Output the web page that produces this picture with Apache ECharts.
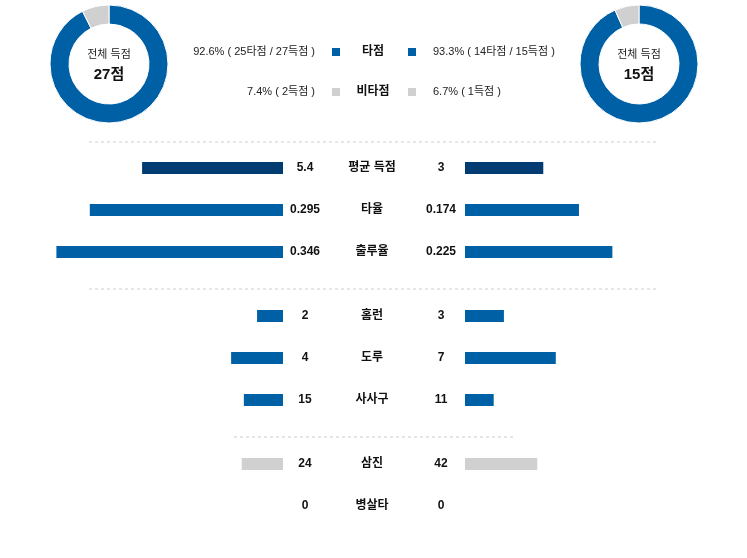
<!DOCTYPE html>
<html><head><meta charset="utf-8">
<script src="https://cdn.jsdelivr.net/npm/echarts@6/dist/echarts.min.js"></script>
<style>html,body{margin:0;padding:0;background:#fff}#c{width:747px;height:558px}</style>
</head><body><div id="c"></div>
<script>
// ---- data ----
var rowNames = ['평균 득점', '타율', '출루율', '홈런', '도루', '사사구', '삼진', '병살타'];
var leftVals = [5.4, 0.295, 0.346, 2, 4, 15, 24, 0];
var rightVals = [3, 0.174, 0.225, 3, 7, 11, 42, 0];
var leftText = ['5.4', '0.295', '0.346', '2', '4', '15', '24', '0'];
var rightText = ['3', '0.174', '0.225', '3', '7', '11', '42', '0'];
var rowScaleMax = [8.7, 0.3466, 0.3466, 17.5, 17.5, 87, 132, 1];
var donutLeft = [25, 2];   // 타점, 비타점
var donutRight = [14, 1];
var totalLeft = 27, totalRight = 15;
var legendNames = ['타점', '비타점'];
var legendLeftText = ['92.6% ( 25타점 / 27득점 )', '7.4% ( 2득점 )'];
var legendRightText = ['93.3% ( 14타점 / 15득점 )', '6.7% ( 1득점 )'];

// ---- styles ----
var BLUE = '#0060A6', DARK = '#003C72', GRAY = '#D0D0D0';
var rowColors = [DARK, BLUE, BLUE, BLUE, BLUE, BLUE, GRAY, GRAY];
var rowY = [168, 210, 252, 316, 358, 400, 464, 506];
var FONT = '"Liberation Sans", Arial, "Noto Sans CJK KR", sans-serif';

var grids = [], xAxes = [], yAxes = [], series = [], graphics = [];
rowNames.forEach(function (name, i) {
  [['L', leftVals[i]], ['R', rightVals[i]]].forEach(function (s, k) {
    var idx = grids.length;
    grids.push({left: k === 0 ? 56 : 465, width: 227, top: rowY[i] - 6, height: 12, containLabel: false});
    xAxes.push({type: 'value', gridIndex: idx, min: 0, max: rowScaleMax[i], inverse: k === 0, show: false});
    yAxes.push({type: 'category', gridIndex: idx, data: [name], show: false});
    series.push({type: 'bar', xAxisIndex: idx, yAxisIndex: idx, data: [s[1]], barWidth: 12,
      itemStyle: {color: rowColors[i]}, silent: true, animation: false});
  });
  graphics.push({type: 'text', x: 305, y: rowY[i], style: {text: leftText[i], font: 'bold 12px ' + FONT, fill: '#111', textAlign: 'center', textVerticalAlign: 'middle'}});
  graphics.push({type: 'text', x: 372, y: rowY[i], style: {text: name, font: 'bold 12px ' + FONT, fill: '#111', textAlign: 'center', textVerticalAlign: 'middle'}});
  graphics.push({type: 'text', x: 441, y: rowY[i], style: {text: rightText[i], font: 'bold 12px ' + FONT, fill: '#111', textAlign: 'center', textVerticalAlign: 'middle'}});
});

// dashed separators
[[89, 656, 142], [89, 656, 289], [234, 514, 437]].forEach(function (l) {
  graphics.push({type: 'line', shape: {x1: l[0], y1: l[2], x2: l[1], y2: l[2]},
    style: {stroke: '#E6E6E6', lineWidth: 2, lineDash: [3, 3]}});
});

// donuts
function donut(cx, vals, total) {
  series.push({type: 'pie', center: [cx, 64], radius: [40, 59], startAngle: 90, clockwise: true,
    silent: true, animation: false, label: {show: false}, labelLine: {show: false},
    itemStyle: {borderColor: '#fff', borderWidth: 1},
    data: [{value: vals[0], name: legendNames[0], itemStyle: {color: BLUE}},
           {value: vals[1], name: legendNames[1], itemStyle: {color: GRAY}}]});
  graphics.push({type: 'text', x: cx, y: 55, style: {text: '전체 득점', font: '11px ' + FONT, fill: '#222', textAlign: 'center', textVerticalAlign: 'middle'}});
  graphics.push({type: 'text', x: cx, y: 75, style: {text: total + '점', font: 'bold 15px ' + FONT, fill: '#111', textAlign: 'center', textVerticalAlign: 'middle'}});
}
donut(109, donutLeft, totalLeft);
donut(639, donutRight, totalRight);

// legend
var legY = [52, 92], legCol = [BLUE, GRAY];
legendNames.forEach(function (n, i) {
  graphics.push({type: 'text', x: 315, y: legY[i], style: {text: legendLeftText[i], font: '11px ' + FONT, fill: '#222', textAlign: 'right', textVerticalAlign: 'middle'}});
  graphics.push({type: 'rect', shape: {x: 332, y: legY[i] - 4, width: 8, height: 8}, style: {fill: legCol[i]}});
  graphics.push({type: 'text', x: 373, y: legY[i], style: {text: n, font: 'bold 12px ' + FONT, fill: '#111', textAlign: 'center', textVerticalAlign: 'middle'}});
  graphics.push({type: 'rect', shape: {x: 408, y: legY[i] - 4, width: 8, height: 8}, style: {fill: legCol[i]}});
  graphics.push({type: 'text', x: 433, y: legY[i], style: {text: legendRightText[i], font: '11px ' + FONT, fill: '#222', textAlign: 'left', textVerticalAlign: 'middle'}});
});

var chart = echarts.init(document.getElementById('c'));
chart.setOption({
  animation: false,
  backgroundColor: '#fff',
  grid: grids, xAxis: xAxes, yAxis: yAxes, series: series,
  graphic: graphics
});
</script></body></html>
